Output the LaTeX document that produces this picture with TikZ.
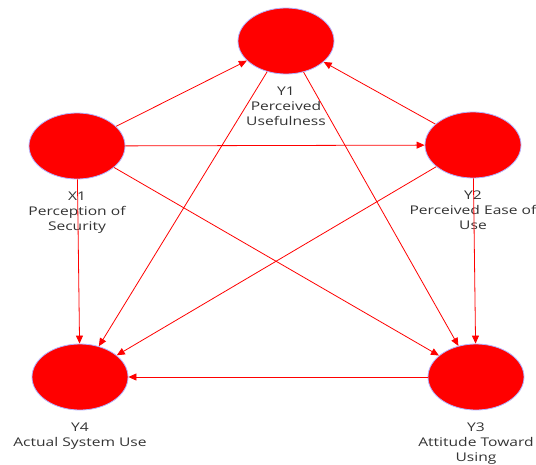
\documentclass[tikz,border=0pt]{standalone}
\usepackage{fontspec}
\setmainfont[FakeStretch=1.3]{Open Sans}
\usetikzlibrary{positioning,arrows.meta,shapes.geometric}
\tikzset{
  pathline/.style={-{Triangle[length=8pt,width=7pt]}, red, line width=0.8pt},
  construct/.style={draw=blue!30!white, ellipse, line width=0.8pt, fill=red, minimum width=96pt, minimum height=66pt, inner sep=0pt},
  conlabel/.style={align=center, text=black!80, inner sep=0pt, font=\fontsize{12}{15}\selectfont}
}

\begin{document}
\begin{tikzpicture}[x=1pt, y=-1pt]
  \useasboundingbox (0,0) rectangle (536,464);
  % constructs
  \node[construct] (y1) at (286,41) {};
  \node[construct] (x1) at (77,146) {};
  \node[construct] (y2) at (473,145) {};
  \node[construct] (y4) at (80,377) {};
  \node[construct] (y3) at (476,377) {};
  % labels
  \node[conlabel, below=12pt of y1] (y1lbl) {Y1\\Perceived\\Usefulness};
  \node[conlabel, below=12pt of x1] (x1lbl) {X1\\Perception of\\Security};
  \node[conlabel, below=12pt of y2] (y2lbl) {Y2\\Perceived Ease of\\Use};
  \node[conlabel, below=12pt of y4] (y4lbl) {Y4\\Actual System Use};
  \node[conlabel, below=12pt of y3] (y3lbl) {Y3\\Attitude Toward\\Using};
  % paths
  \draw[pathline] (x1) -- (y1);
  \draw[pathline] (y2) -- (y1);
  \draw[pathline] (x1) -- (y2);
  \draw[pathline] (x1) -- (y4);
  \draw[pathline] (x1) -- (y3);
  \draw[pathline] (y1) -- (y4);
  \draw[pathline] (y1) -- (y3);
  \draw[pathline] (y2) -- (y4);
  \draw[pathline] (y2) -- (y3);
  \draw[pathline] (y3) -- (y4);
\end{tikzpicture}
\end{document}
